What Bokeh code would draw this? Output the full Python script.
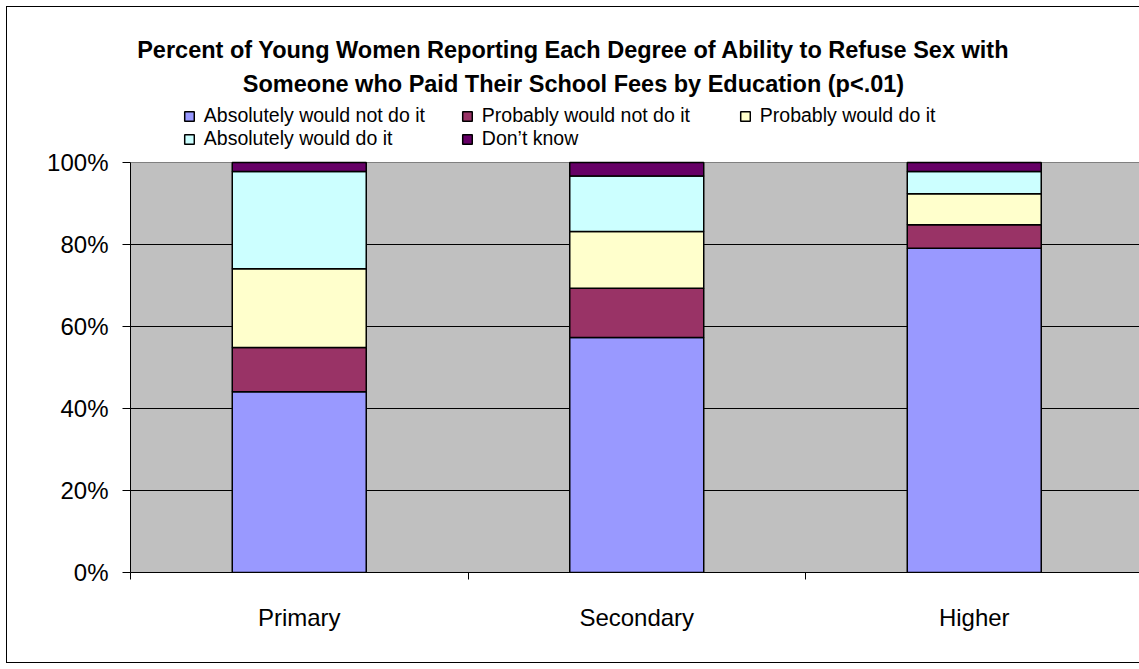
from bokeh.plotting import figure
from bokeh.models import (Range1d, FixedTicker, Legend, LegendItem, Label,
                          ColumnDataSource)
from bokeh.embed import file_html
from bokeh.resources import INLINE

# ---------------- data ----------------
categories = ["Primary", "Secondary", "Higher"]
series_names = ["Absolutely would not do it", "Probably would not do it",
                "Probably would do it", "Absolutely would do it", "Don\u2019t know"]
absolutely_not = [44.1, 57.3, 79.1]
probably_not = [10.8, 12.0, 5.7]
probably_would = [19.2, 13.9, 7.6]
absolutely_would = [23.7, 13.5, 5.4]
dont_know = [2.2, 3.3, 2.2]
y_ticks = [0, 20, 40, 60, 80, 100]
y_tick_labels = ["0%", "20%", "40%", "60%", "80%", "100%"]
title_lines = ["Percent of Young Women Reporting Each Degree of Ability to Refuse Sex with",
               "Someone who Paid Their School Fees by Education (p<.01)"]

colors = ["#9999FF", "#993366", "#FFFFCC", "#CCFFFF", "#660066"]
FONT = "Liberation Sans"

keys = ["s0", "s1", "s2", "s3", "s4"]
cat_pos = [i + 0.5 for i in range(len(categories))]
src = ColumnDataSource(dict(x=cat_pos, s0=absolutely_not, s1=probably_not,
                            s2=probably_would, s3=absolutely_would, s4=dont_know))

# ---------------- layout (pixels) ----------------
W, H = 1139, 669
frame_left, top_px, bottom_px = 130, 162, 572      # 100% and 0% rows
cat_px = 337.5
x_end = (W - frame_left) / cat_px
y_end = y_ticks[-1] * bottom_px / (bottom_px - top_px)   # frame reaches canvas top

p = figure(width=W, height=H, x_range=Range1d(0, x_end), y_range=Range1d(0, y_end),
           output_backend="svg", toolbar_location=None,
           min_border_left=frame_left, min_border_right=0,
           min_border_top=0, min_border_bottom=H - bottom_px,
           background_fill_alpha=0, border_fill_alpha=0)
p.outline_line_color = None
# outer chart border (left, top, bottom edges; the right edge lies outside the window)
p.styles = {"background": "linear-gradient(#000,#000) 6px 6px / 1px 657px no-repeat, "
                          "linear-gradient(#000,#000) 6px 6px / 1200px 1px no-repeat, "
                          "linear-gradient(#000,#000) 6px 662px / 1200px 1px no-repeat, #ffffff"}

# grey plot area
p.quad(left=[0], right=[len(categories)], bottom=[y_ticks[0]], top=[y_ticks[-1]],
       fill_color="#C0C0C0", line_color="#808080", line_width=1, level="image")

rs = p.vbar_stack(keys, x="x", width=0.397, source=src, fill_color=colors,
                  line_color="black", line_width=1.5)

# grid
p.xgrid.visible = False
p.ygrid.ticker = FixedTicker(ticks=y_ticks[1:-1])
p.ygrid.grid_line_color = "black"
p.ygrid.grid_line_width = 1

# y axis
ya = p.yaxis[0]
ya.bounds = (y_ticks[0], y_ticks[-1])
ya.ticker = FixedTicker(ticks=y_ticks)
ya.major_label_overrides = {t: l for t, l in zip(y_ticks, y_tick_labels)}
ya.major_tick_out = 8
ya.major_tick_in = 0
ya.minor_tick_line_color = None
ya.axis_line_color = "black"
ya.major_tick_line_color = "black"
ya.major_label_text_font = FONT
ya.major_label_text_font_size = "24px"
ya.major_label_text_color = "black"
ya.major_label_standoff = 14

# x axis
xa = p.xaxis[0]
xa.ticker = FixedTicker(ticks=cat_pos, minor_ticks=list(range(len(categories) + 1)))
xa.major_label_overrides = {c: n for c, n in zip(cat_pos, categories)}
xa.major_tick_out = 0
xa.major_tick_in = 0
xa.major_tick_line_color = None
xa.minor_tick_out = 7
xa.minor_tick_in = 0
xa.minor_tick_line_color = "black"
xa.axis_line_color = "black"
xa.major_label_text_font = FONT
xa.major_label_text_font_size = "24px"
xa.major_label_text_color = "black"
xa.major_label_standoff = 24

# legend
items = [LegendItem(label=n, renderers=[r]) for n, r in zip(series_names, rs)]
legend = Legend(items=items, location=(52.8, 421.75), ncols=3, orientation="horizontal",
                glyph_width=12, glyph_height=12, label_standoff=9,
                label_width=257, label_height=22, spacing=0, padding=0, margin=0,
                border_line_alpha=0, background_fill_alpha=0,
                label_text_font=FONT, label_text_font_size="19.5px",
                label_text_color="black")
p.add_layout(legend)

# title, two centred lines (screen units: x from frame left, y up from frame bottom)
for txt, base in zip(title_lines, [49.3, 83.3]):
    p.add_layout(Label(x=573 - frame_left, y=bottom_px - base,
                       x_units="screen", y_units="screen", text=txt,
                       text_align="center", text_baseline="alphabetic",
                       text_font=FONT, text_font_size="23.5px", text_font_style="bold",
                       text_color="black"))

open("out.html", "w").write(file_html(p, INLINE))
